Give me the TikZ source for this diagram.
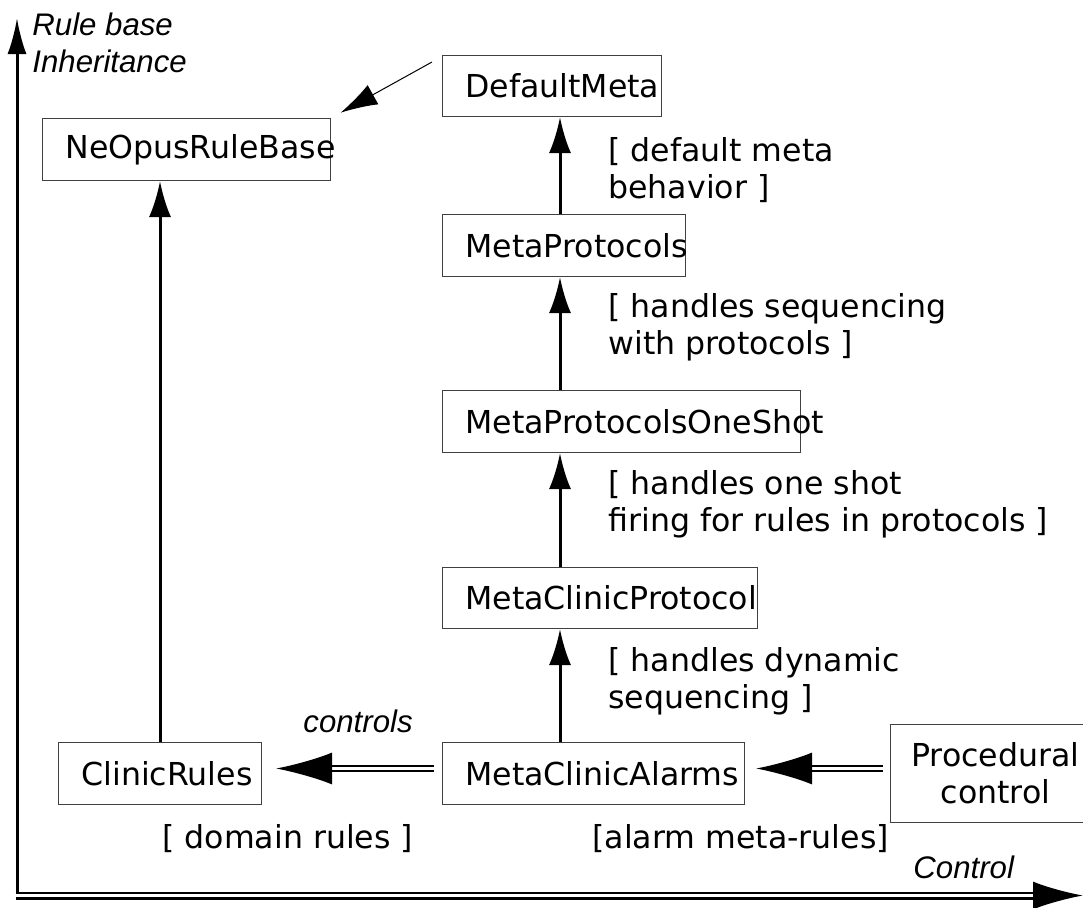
\documentclass[tikz,border=0pt]{standalone}
\usepackage{fontspec}
\setmainfont{DejaVu Sans}
\newfontfamily\tagfont{Liberation Sans}
\usetikzlibrary{arrows.meta,calc}

\begin{document}
\begin{tikzpicture}[x=0.5pt,y=-0.5pt,
  every node/.style={font=\fontsize{15.8}{18.5}\selectfont},
  box/.style={draw=black!75, line width=0.5pt, inner sep=0pt, anchor=north west},
  cls/.style={box, label={[inner sep=0pt, anchor=west, xshift=11.5pt]west:#1}},
  inh/.style={line width=1.5pt, -{Latex[length=18pt,width=11pt]}},
  ctl/.style={double, line width=1.1pt, double distance=1.4pt, -{Latex[length=28pt,width=16pt]}},
  note/.style={anchor=north west, align=left, inner sep=0pt},
  tag/.style={font=\fontsize{15.6}{18.5}\selectfont\tagfont\itshape, inner sep=0pt}]

% page area
\fill[white] (0,0) rectangle (1083,907);
\useasboundingbox (0,0) rectangle (1083,907);

% axes
\coordinate (corner) at (17,899);
\coordinate (ytop) at (17,18);
\coordinate (xstart) at (15.5,895.5);
\coordinate (xend) at (1083,895.5);
\draw[line width=1.5pt, -{Latex[length=18pt,width=9.5pt]}] (corner) -- (ytop);
\draw[double, line width=1.25pt, double distance=1.5pt, -{Latex[length=25pt,width=14pt]}] (xstart) -- (xend);
\node[tag, anchor=west, align=left] (ylab) at (32,42.5) {Rule base\\Inheritance};
\node[tag, anchor=base west] (xlab) at (913,878) {Control};

% rule bases and meta levels
\node[cls=DefaultMeta, minimum width=109.5pt, minimum height=30.5pt] (dm) at (442,55) {};
\node[cls=NeOpusRuleBase, minimum width=144pt, minimum height=31pt] (nrb) at (42,118) {};
\node[cls=MetaProtocols, minimum width=121.5pt, minimum height=31pt] (mp) at (442,214) {};
\node[cls=MetaProtocolsOneShot, minimum width=179pt, minimum height=31pt] (mpos) at (442,390) {};
\node[cls=MetaClinicProtocol, minimum width=157.5pt, minimum height=30.5pt] (mcp) at (442,567) {};
\node[cls=MetaClinicAlarms, minimum width=151pt, minimum height=31pt] (mca) at (442,742) {};
\node[cls=ClinicRules, minimum width=101.5pt, minimum height=31pt] (cr) at (58,742) {};
\node[box, align=center, minimum width=105pt, minimum height=49pt] (pc) at (890,724) {Procedural\\control};

% inheritance
\draw[inh] ([xshift=59pt]mp.north west) -- ([xshift=59pt]dm.south west);
\draw[inh] ([xshift=59pt]mpos.north west) -- ([xshift=59pt]mp.south west);
\draw[inh] ([xshift=59pt]mcp.north west) -- ([xshift=59pt]mpos.south west);
\draw[inh] ([xshift=59pt]mca.north west) -- ([xshift=59pt]mcp.south west);
\draw[inh] ([xshift=51pt]cr.north west) -- ([xshift=51pt]cr.north west |- nrb.south);
\coordinate (dmtail) at (432,62);
\draw[line width=0.5pt, -{Latex[length=18.5pt,width=11pt]}, shorten >=5.5pt] (dmtail) -- (nrb.north east);

% control
\draw[ctl, shorten <=4pt, shorten >=7pt] ([yshift=2.5pt]mca.west) -- ([yshift=2.5pt]cr.east);
\draw[ctl, shorten <=3.5pt, shorten >=5.5pt] ([yshift=2.5pt]pc.west) -- ([yshift=2.5pt]mca.east);
\node[tag, anchor=base west] (ctlab) at (303,732) {controls};

% comments on each level
\node[note] (n1) at (608,137) {[ default meta\\behavior ]};
\node[note] (n2) at (608,293) {[ handles sequencing\\with protocols ]};
\node[note] (n3) at (608,470) {[ handles one shot\\firing for rules in protocols ]};
\node[note] (n4) at (608,647) {[ handles dynamic\\sequencing ]};
\node[anchor=base west, inner sep=0pt] (n5) at (162,848) {[ domain rules ]};
\node[anchor=base west, inner sep=0pt] (n6) at (592,848) {[alarm meta-rules]};
\end{tikzpicture}
\end{document}
